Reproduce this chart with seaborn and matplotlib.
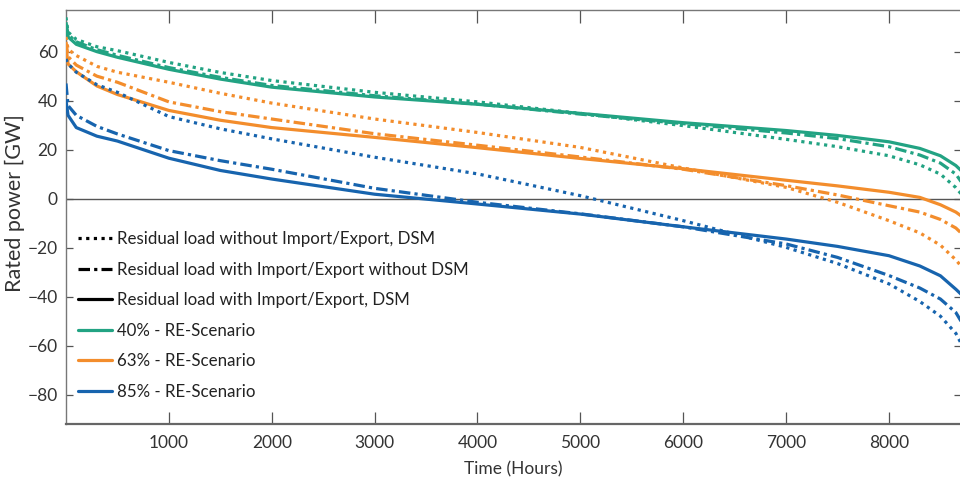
import numpy as np
import pandas as pd
import matplotlib
matplotlib.use("Agg")
import matplotlib.pyplot as plt
from matplotlib.lines import Line2D
import seaborn as sns

hours = [0, 20, 100, 300, 500, 1000, 1500, 2000, 3000, 4000, 5000, 6000,
         7000, 7500, 8000, 8300, 8500, 8650, 8700]

# 40% RE-Scenario
g40_dotted = [74, 68, 65, 62, 60.4, 55.6, 51.5, 48.2, 43.4, 39.5, 34.8, 29.8,
              24.2, 21.2, 17.5, 13.8, 10, 4.5, 2]
g40_dashdot = [72, 67, 64, 60.8, 58.5, 53.5, 49.5, 46.2, 42, 38.6, 34.5, 30.6,
               26.8, 24.5, 21.2, 17.8, 14.5, 10, 7]
g40_solid = [70, 66, 63, 60, 57.7, 52.8, 48.8, 45.5, 41.5, 38.5, 34.8, 31,
             27.8, 25.8, 23.2, 20.5, 17.5, 13.5, 11.5]

# 63% RE-Scenario
o63_dotted = [66, 61, 58.4, 54, 51.6, 47.5, 43, 39, 32.5, 27, 20.9, 12.5,
              4.6, -1.5, -9, -14, -19, -25, -27.5]
o63_dashdot = [64, 58, 54.5, 50, 47.5, 39.5, 35.5, 32.5, 26.5, 21.8, 17, 12,
               5.3, 1.5, -2.9, -5.5, -8.5, -12, -14]
o63_solid = [62, 55, 51.8, 46, 42.5, 36, 32, 29, 25, 20.8, 16.4, 12.2,
             7.5, 5.2, 2.6, 0.5, -2.5, -5.5, -7]

# 85% RE-Scenario
b85_dotted = [57, 55, 51.6, 46.5, 43.4, 33.5, 28.5, 24.4, 16.9, 10.1, 1.2, -9,
              -19.9, -26.5, -34.8, -42, -48, -55, -59]
b85_dashdot = [47, 38, 34, 29.5, 26.4, 19.6, 15.5, 12, 4.2, -1.5, -6.2, -11.5,
               -18.5, -24, -31.4, -36.5, -41, -46.5, -50]
b85_solid = [40, 34, 29, 25.5, 23.5, 16.5, 11.5, 8, 1.8, -2.2, -6.3, -11.5,
             -16.5, -19.5, -23.3, -27.5, -31.5, -37, -39]

scenarios = ["40% - RE-Scenario", "63% - RE-Scenario", "85% - RE-Scenario"]
types = ["Residual load without Import/Export, DSM",
         "Residual load with Import/Export without DSM",
         "Residual load with Import/Export, DSM"]
series = {
    (scenarios[0], types[0]): g40_dotted,
    (scenarios[0], types[1]): g40_dashdot,
    (scenarios[0], types[2]): g40_solid,
    (scenarios[1], types[0]): o63_dotted,
    (scenarios[1], types[1]): o63_dashdot,
    (scenarios[1], types[2]): o63_solid,
    (scenarios[2], types[0]): b85_dotted,
    (scenarios[2], types[1]): b85_dashdot,
    (scenarios[2], types[2]): b85_solid,
}
x_ticks = [1000, 2000, 3000, 4000, 5000, 6000, 7000, 8000]
y_ticks = [-80, -60, -40, -20, 0, 20, 40, 60]

rows = []
for (sc, ty), vals in series.items():
    for h, v in zip(hours, vals):
        rows.append({"hour": h, "power": v, "scenario": sc, "type": ty})
df = pd.DataFrame(rows)

sns.set_theme(style="white")
plt.rcParams["font.family"] = ["Lato", "DejaVu Sans"]

colors = {scenarios[0]: "#22A383", scenarios[1]: "#F38D2C", scenarios[2]: "#1764AE"}
dashes = {types[0]: (1, 1.4), types[1]: (3.6, 1.3, 1, 1.3), types[2]: ""}

fig = plt.figure(figsize=(9.6, 4.88), dpi=100)
ax = fig.add_axes([66 / 960, 1 - 424 / 488, 895 / 960, 414 / 488])

ax.axhline(0, color="#555555", lw=1.0, zorder=1)

sns.lineplot(data=df, x="hour", y="power", hue="scenario", style="type",
             palette=colors, dashes=dashes, estimator=None, sort=False,
             lw=2.3, legend=False, ax=ax, zorder=3)

ax.set_xlim(0, 8700)
ax.set_ylim(-92, 77)
ax.set_xticks(x_ticks)
ax.set_yticks(y_ticks)
ax.tick_params(axis="x", direction="in", length=9, width=0.9, top=True,
               bottom=True, colors="#555555", labelcolor="#333333",
               labelsize=12.5, pad=8)
ax.tick_params(axis="y", direction="in", length=5, width=0.9, left=True,
               right=True, colors="#555555", labelcolor="#333333",
               labelsize=12.5, pad=6)
for s in ax.spines.values():
    s.set_color("#777777")
    s.set_linewidth(1.0)
ax.spines["bottom"].set_linewidth(1.6)
ax.spines["bottom"].set_color("#666666")

ax.set_xlabel("Time (Hours)", fontsize=12.5, color="#333333", labelpad=7)
ax.set_ylabel("Rated power [GW]", fontsize=15.5, color="#333333")
ax.yaxis.set_label_coords(-0.046, 0.534)

handles = [
    Line2D([], [], color="black", lw=2.3, dashes=dashes[types[0]]),
    Line2D([], [], color="black", lw=2.3, dashes=dashes[types[1]]),
    Line2D([], [], color="black", lw=2.3),
    Line2D([], [], color=colors[scenarios[0]], lw=2.3),
    Line2D([], [], color=colors[scenarios[1]], lw=2.3),
    Line2D([], [], color=colors[scenarios[2]], lw=2.3),
]
labels = types + scenarios
ax.legend(handles, labels, loc="upper left", bbox_to_anchor=(0.0, 0.495),
          frameon=False, fontsize=12.2, handlelength=2.0, handletextpad=0.3,
          labelspacing=0.86, borderpad=0.2, labelcolor="#222222")

fig.savefig("out.png", dpi=100)
